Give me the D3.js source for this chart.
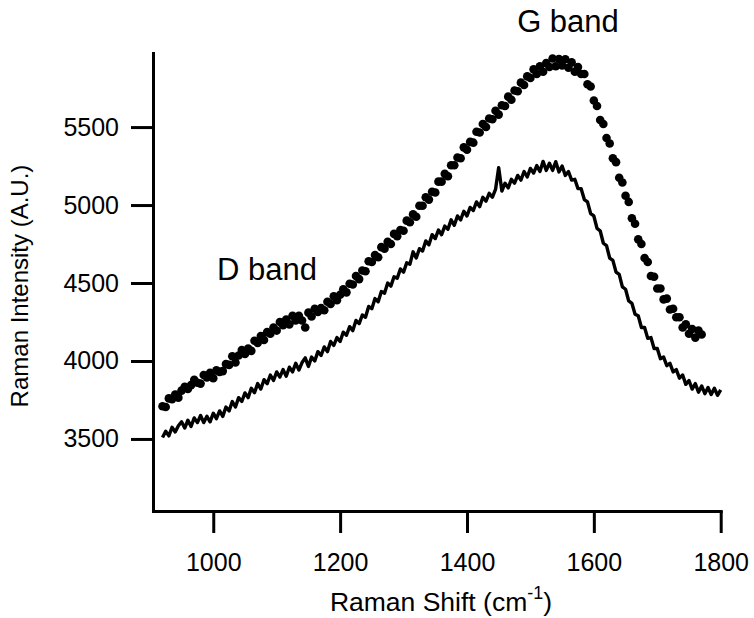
<!DOCTYPE html>
<html>
<head>
<meta charset="utf-8">
<script src="https://cdn.jsdelivr.net/npm/d3@7"></script>
<style>
  body { margin: 0; background: #fff; }
  text { font-family: "Liberation Sans", Arial, sans-serif; fill: #000; }
</style>
</head>
<body>
<script>
// raman shift grid (cm-1), one reading every 5 cm-1
var shift = [
  920, 925, 930, 935, 940, 945, 950, 955, 960, 965,
  970, 975, 980, 985, 990, 995, 1000, 1005, 1010, 1015,
  1020, 1025, 1030, 1035, 1040, 1045, 1050, 1055, 1060, 1065,
  1070, 1075, 1080, 1085, 1090, 1095, 1100, 1105, 1110, 1115,
  1120, 1125, 1130, 1135, 1140, 1145, 1150, 1155, 1160, 1165,
  1170, 1175, 1180, 1185, 1190, 1195, 1200, 1205, 1210, 1215,
  1220, 1225, 1230, 1235, 1240, 1245, 1250, 1255, 1260, 1265,
  1270, 1275, 1280, 1285, 1290, 1295, 1300, 1305, 1310, 1315,
  1320, 1325, 1330, 1335, 1340, 1345, 1350, 1355, 1360, 1365,
  1370, 1375, 1380, 1385, 1390, 1395, 1400, 1405, 1410, 1415,
  1420, 1425, 1430, 1435, 1440, 1445, 1450, 1455, 1460, 1465,
  1470, 1475, 1480, 1485, 1490, 1495, 1500, 1505, 1510, 1515,
  1520, 1525, 1530, 1535, 1540, 1545, 1550, 1555, 1560, 1565,
  1570, 1575, 1580, 1585, 1590, 1595, 1600, 1605, 1610, 1615,
  1620, 1625, 1630, 1635, 1640, 1645, 1650, 1655, 1660, 1665,
  1670, 1675, 1680, 1685, 1690, 1695, 1700, 1705, 1710, 1715,
  1720, 1725, 1730, 1735, 1740, 1745, 1750, 1755, 1760, 1765,
  1770, 1775, 1780, 1785, 1790, 1795, 1800
];

// upper spectrum (dots), 920 - 1770
var dotIntensity = [
  3710, 3705, 3760, 3755, 3785, 3765, 3810, 3835, 3820, 3845,
  3880, 3860, 3855, 3910, 3895, 3925, 3890, 3940, 3930, 3935,
  3980, 3975, 4030, 3990, 4035, 4070, 4045, 4080, 4065, 4130,
  4115, 4160, 4135, 4185, 4175, 4215, 4195, 4250, 4230, 4265,
  4235, 4290, 4260, 4290, 4260, 4215, 4310, 4285, 4335, 4315,
  4340, 4325, 4380, 4365, 4415, 4390, 4425, 4460, 4440, 4495,
  4490, 4545, 4525, 4580, 4575, 4640, 4635, 4680, 4665, 4730,
  4720, 4765, 4750, 4815, 4800, 4840, 4835, 4900, 4890, 4940,
  4925, 4995, 4995, 5050, 5035, 5085, 5080, 5150, 5150, 5200,
  5185, 5255, 5255, 5305, 5300, 5370, 5355, 5405, 5400, 5470,
  5465, 5520, 5500, 5555, 5550, 5605, 5580, 5640, 5635, 5695,
  5675, 5735, 5730, 5785, 5770, 5825, 5815, 5870, 5840, 5890,
  5855, 5910, 5885, 5940, 5890, 5937, 5895, 5935, 5880, 5915,
  5855, 5885, 5840, 5840, 5775, 5760, 5670, 5635, 5545, 5520,
  5430, 5395, 5300, 5275, 5175, 5145, 5060, 5020, 4915, 4880,
  4780, 4750, 4660, 4635, 4545, 4540, 4465, 4465, 4395, 4400,
  4330, 4335, 4280, 4280, 4215, 4235, 4175, 4205, 4150, 4195,
  4170
];

// lower spectrum (line), 920 - 1800
var lineIntensity = [
  3510, 3550, 3520, 3575, 3545, 3585, 3610, 3570, 3620, 3580,
  3635, 3605, 3650, 3605, 3645, 3610, 3665, 3630, 3680, 3645,
  3705, 3680, 3740, 3705, 3765, 3740, 3795, 3765, 3825, 3797,
  3855, 3820, 3880, 3855, 3910, 3875, 3930, 3897, 3945, 3902,
  3960, 3930, 3985, 3942, 3990, 4020, 3965, 4025, 4000, 4060,
  4035, 4090, 4060, 4125, 4100, 4150, 4125, 4185, 4165, 4220,
  4195, 4260, 4240, 4295, 4280, 4350, 4335, 4400, 4380, 4445,
  4435, 4500, 4480, 4540, 4530, 4590, 4570, 4630, 4620, 4700,
  4660, 4720, 4705, 4770, 4745, 4810, 4785, 4840, 4810, 4865,
  4845, 4905, 4870, 4930, 4905, 4960, 4930, 4985, 4965, 5020,
  4990, 5050, 5025, 5075, 5050, 5100, 5240, 5090, 5140, 5110,
  5165, 5140, 5190, 5160, 5215, 5180, 5235, 5205, 5253, 5215,
  5280, 5222, 5268, 5222, 5278, 5212, 5250, 5190, 5215, 5160,
  5165, 5105, 5105, 5035, 5020, 4945, 4930, 4850, 4835, 4755,
  4740, 4660, 4645, 4570, 4555, 4475, 4460, 4385, 4370, 4300,
  4290, 4215, 4215, 4145, 4150, 4080, 4080, 4015, 4025, 3970,
  3985, 3930, 3945, 3890, 3910, 3850, 3875, 3820, 3855, 3800,
  3840, 3790, 3830, 3785, 3825, 3780, 3815
];

var xTicks = [1000, 1200, 1400, 1600, 1800];
var yTicks = [3500, 4000, 4500, 5000, 5500];

var width = 754, height = 618;

var svg = d3.select('body').append('svg')
  .attr('width', width).attr('height', height);

var x = d3.scaleLinear().domain([905, 1800]).range([153, 720.7]);
var y = d3.scaleLinear().domain([3038, 5975]).range([511, 53]);

// lower trace
var line = d3.line()
  .x(function(d, i) { return x(shift[i]); })
  .y(function(d) { return y(d); });

svg.append('path')
  .datum(lineIntensity)
  .attr('d', line)
  .attr('fill', 'none')
  .attr('stroke', '#000')
  .attr('stroke-width', 3.4)
  .attr('stroke-linejoin', 'round');

// upper trace as markers
svg.append('g').selectAll('circle')
  .data(dotIntensity)
  .enter().append('circle')
  .attr('cx', function(d, i) { return x(shift[i]); })
  .attr('cy', function(d) { return y(d); })
  .attr('r', 4.3)
  .attr('fill', '#000');

// axes
var xAxis = svg.append('g')
  .attr('transform', 'translate(0,511)')
  .call(d3.axisBottom(x).tickValues(xTicks).tickFormat(d3.format('d'))
    .tickSize(22).tickPadding(20).tickSizeOuter(0));

var yAxis = svg.append('g')
  .attr('transform', 'translate(153,0)')
  .call(d3.axisLeft(y).tickValues(yTicks).tickFormat(d3.format('d'))
    .tickSize(22).tickPadding(12).tickSizeOuter(0));

[xAxis, yAxis].forEach(function(a) {
  a.select('.domain').attr('stroke-width', 3).attr('stroke-linecap', 'square');
  a.selectAll('.tick line').attr('stroke-width', 3);
  a.selectAll('.tick text')
    .attr('font-size', 25)
    .attr('font-family', '"Liberation Sans", Arial, sans-serif');
});

// axis titles
var xt = svg.append('text')
  .attr('x', 441).attr('y', 611)
  .attr('text-anchor', 'middle')
  .attr('font-size', 26.5);
xt.append('tspan').text('Raman Shift (cm');
xt.append('tspan').attr('font-size', 18).attr('dy', -12).text('-1');
xt.append('tspan').attr('dy', 12).text(')');

svg.append('text')
  .attr('transform', 'translate(28,286) rotate(-90)')
  .attr('text-anchor', 'middle')
  .attr('font-size', 24)
  .text('Raman Intensity (A.U.)');

// band labels
svg.append('text')
  .attr('x', 568).attr('y', 32)
  .attr('text-anchor', 'middle')
  .attr('font-size', 31)
  .text('G band');

svg.append('text')
  .attr('x', 267).attr('y', 280)
  .attr('text-anchor', 'middle')
  .attr('font-size', 31)
  .text('D band');
</script>
</body>
</html>
